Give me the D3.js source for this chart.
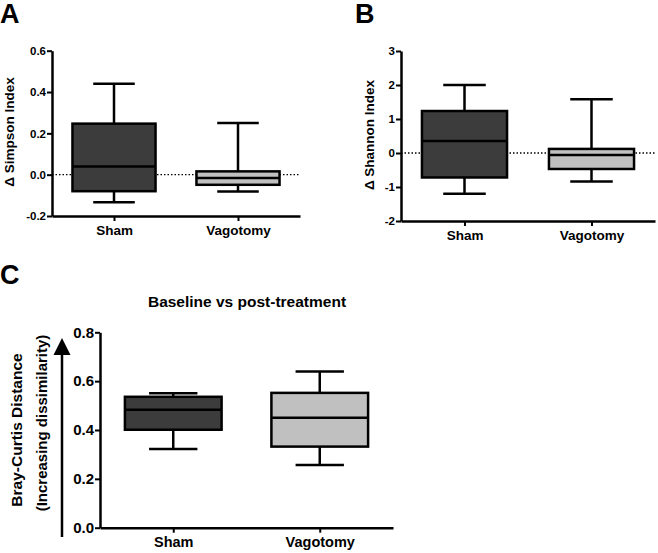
<!DOCTYPE html>
<html><head><meta charset="utf-8">
<script src="https://cdn.jsdelivr.net/npm/d3@7"></script>
<style>body{margin:0;background:#fff}text{font-family:"Liberation Sans",Arial,sans-serif;font-weight:bold}</style>
</head><body>
<svg id="c" width="658" height="553"></svg>
<script>
const categories = ["Sham", "Vagotomy"];
const fills = ["#3c3c3c", "#c0c0c0"];
// [min, q1, median, q3, max]
const simpsonSham = [-0.133, -0.08, 0.04, 0.247, 0.44];
const simpsonVag = [-0.081, -0.049, -0.016, 0.016, 0.25];
const shannonSham = [-1.2, -0.72, 0.35, 1.235, 2.0];
const shannonVag = [-0.84, -0.47, -0.06, 0.12, 1.58];
const brayCurtisSham = [0.322, 0.401, 0.483, 0.536, 0.55];
const brayCurtisVag = [0.257, 0.332, 0.45, 0.552, 0.64];
const ticksA = [-0.2, 0, 0.2, 0.4, 0.6];
const tickLabelsA = ["-0.2", "0.0", "0.2", "0.4", "0.6"];
const ticksB = [-2, -1, 0, 1, 2, 3];
const tickLabelsB = ["-2", "-1", "0", "1", "2", "3"];
const ticksC = [0, 0.2, 0.4, 0.6, 0.8];
const tickLabelsC = ["0.0", "0.2", "0.4", "0.6", "0.8"];

const svg = d3.select("#c");

function panel(o) {
  const g = svg.append("g");
  const x = d3.scalePoint().domain(categories).range([o.x0, o.x1]).padding(0.5);
  const y = d3.scaleLinear().domain(o.domain).range([o.y0, o.y1]);
  const bw = x.step() * o.boxFrac;
  if (o.zero) {
    g.append("line").attr("x1", o.x0).attr("x2", o.x1).attr("y1", y(0)).attr("y2", y(0))
      .attr("stroke", "#000").attr("stroke-width", 1.3).attr("stroke-dasharray", "1.5,2");
  }
  o.series.forEach((s, i) => {
    const cx = x(categories[i]);
    const sw = 2.5;
    g.append("line").attr("x1", cx).attr("x2", cx).attr("y1", y(s[0])).attr("y2", y(s[1])).attr("stroke", "#000").attr("stroke-width", sw);
    g.append("line").attr("x1", cx).attr("x2", cx).attr("y1", y(s[3])).attr("y2", y(s[4])).attr("stroke", "#000").attr("stroke-width", sw);
    g.append("line").attr("x1", cx - bw / 4).attr("x2", cx + bw / 4).attr("y1", y(s[0])).attr("y2", y(s[0])).attr("stroke", "#000").attr("stroke-width", sw);
    g.append("line").attr("x1", cx - bw / 4).attr("x2", cx + bw / 4).attr("y1", y(s[4])).attr("y2", y(s[4])).attr("stroke", "#000").attr("stroke-width", sw);
    g.append("rect").attr("x", cx - bw / 2).attr("width", bw).attr("y", y(s[3])).attr("height", y(s[1]) - y(s[3]))
      .attr("fill", fills[i]).attr("stroke", "#000").attr("stroke-width", sw);
    g.append("line").attr("x1", cx - bw / 2).attr("x2", cx + bw / 2).attr("y1", y(s[2])).attr("y2", y(s[2])).attr("stroke", "#000").attr("stroke-width", sw);
  });
  const ya = g.append("g").attr("transform", `translate(${o.x0},0)`)
    .call(d3.axisLeft(y).tickValues(o.ticks).tickFormat((d, i) => o.tickLabels[i]).tickSize(5).tickSizeOuter(0));
  ya.select(".domain").attr("stroke-width", 2.5);
  ya.selectAll(".tick line").attr("stroke-width", 2);
  ya.selectAll("text").attr("font-size", o.tickFont).attr("fill", "#000").attr("x", -6);
  const xa = g.append("g").attr("transform", `translate(0,${o.y0})`)
    .call(d3.axisBottom(x).tickSize(5).tickSizeOuter(0));
  xa.select(".domain").attr("stroke-width", 2.5);
  xa.selectAll(".tick line").attr("stroke-width", 2);
  xa.selectAll("text").attr("font-size", o.catFont).attr("fill", "#000").attr("y", o.catDy);
  svg.append("text").attr("x", o.lx).attr("y", o.ly).attr("font-size", 27).text(o.letter);
  return {x, y, g};
}

panel({x0: 52, x1: 300, y0: 216, y1: 50.7, domain: [-0.2, 0.6], series: [simpsonSham, simpsonVag],
  ticks: ticksA, tickLabels: tickLabelsA, boxFrac: 0.67, zero: true, tickFont: 11.5, catFont: 13.5, catDy: 9,
  letter: "A", lx: 0, ly: 23});
svg.append("text").attr("transform", "translate(14,132) rotate(-90)").attr("text-anchor", "middle").attr("font-size", 13.5).text("Δ Simpson Index");

panel({x0: 401, x1: 655, y0: 221, y1: 51, domain: [-2, 3], series: [shannonSham, shannonVag],
  ticks: ticksB, tickLabels: tickLabelsB, boxFrac: 0.67, zero: true, tickFont: 11.5, catFont: 13.5, catDy: 9,
  letter: "B", lx: 355, ly: 23});
svg.append("text").attr("transform", "translate(374,135) rotate(-90)").attr("text-anchor", "middle").attr("font-size", 13.5).text("Δ Shannon Index");

panel({x0: 100, x1: 393, y0: 527.7, y1: 332.3, domain: [0, 0.8], series: [brayCurtisSham, brayCurtisVag],
  ticks: ticksC, tickLabels: tickLabelsC, boxFrac: 0.66, zero: false, tickFont: 15, catFont: 14.5, catDy: 9,
  letter: "C", lx: 0, ly: 284});
svg.append("text").attr("x", 247).attr("y", 307).attr("text-anchor", "middle").attr("font-size", 15.5).text("Baseline vs post-treatment");
svg.append("text").attr("transform", "translate(22,430) rotate(-90)").attr("text-anchor", "middle").attr("font-size", 15.5).text("Bray-Curtis Distance");
svg.append("text").attr("transform", "translate(47,423) rotate(-90)").attr("text-anchor", "middle").attr("font-size", 15).text("(Increasing dissimilarity)");
svg.append("line").attr("x1", 62).attr("x2", 62).attr("y1", 537).attr("y2", 350).attr("stroke", "#000").attr("stroke-width", 2.5);
svg.append("path").attr("d", "M62,338 L53.5,355 L70.5,355 Z").attr("fill", "#000");
</script>
</body></html>
